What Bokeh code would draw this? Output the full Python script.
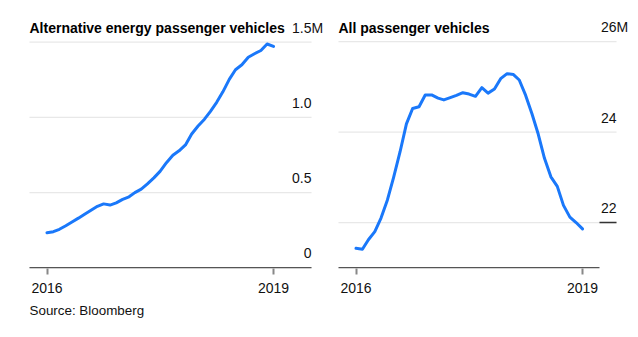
import pandas as pd
from bokeh.plotting import figure
from bokeh.models import (ColumnDataSource, LabelSet, Label, Range1d, FixedTicker,
                          DatetimeTickFormatter, Title)
from bokeh.layouts import row
from bokeh.core.properties import value
from bokeh.embed import file_html
from bokeh.resources import INLINE

# ---------------- data ----------------
months = pd.date_range("2016-01-01", periods=37, freq="MS")

# rolling sales, millions of vehicles
alt_energy = [0.233, 0.240, 0.256, 0.280, 0.305, 0.330, 0.356, 0.383, 0.409, 0.425,
              0.417, 0.432, 0.455, 0.472, 0.500, 0.523, 0.558, 0.598, 0.641, 0.699,
              0.748, 0.778, 0.817, 0.890, 0.943, 0.988, 1.039, 1.100, 1.170, 1.253,
              1.317, 1.350, 1.400, 1.423, 1.445, 1.488, 1.472]
all_passenger = [21.43, 21.41, 21.62, 21.80, 22.10, 22.50, 23.00, 23.56, 24.18, 24.52,
                 24.56, 24.82, 24.82, 24.75, 24.71, 24.76, 24.81, 24.87, 24.84, 24.79,
                 24.98, 24.86, 24.95, 25.18, 25.29, 25.27, 25.15, 24.81, 24.41, 23.95,
                 23.42, 23.01, 22.80, 22.38, 22.12, 22.00, 21.86]

alt_ticks = [0, 0.5, 1.0, 1.5]
alt_tick_labels = ["0", "0.5", "1.0", "1.5M"]
all_ticks = [22, 24, 26]
all_tick_labels = ["22", "24", "26M"]
x_tick_dates = ["2016-01-01", "2019-01-01"]
x_tick_labels = ["2016", "2019"]
titles = ["Alternative energy passenger vehicles", "All passenger vehicles"]
source_note = "Source: Bloomberg"

# ---------------- styling / layout ----------------
FONT = "Liberation Sans"
BLUE = "#1a78fa"
GRID = "#e8e8e8"
AXIS = "#555555"
TICK = "#888888"
TEXT = "#111111"
H = 337
B_BOTTOM = 69            # frame spans canvas rows 0..268
FRAME_H = H - B_BOTTOM
AXIS_PX = 267.3          # canvas row of the baseline
DAY_MS = 86400000.0
PX_PER_MS = 226.5 / (1096 * DAY_MS)
T0 = pd.Timestamp(x_tick_dates[0]).value / 1e6
tick_ms = [pd.Timestamp(d).value / 1e6 for d in x_tick_dates]
M_W = 11.7  # width of the trailing "M" at 14px


def panel(width, tick0_px, grid_x0_px, grid_x1_px, axis_x1_px, vals, base_value,
          px_per_unit, ticks, labels, title, underline_value=None, note=None):
    x_start = T0 - tick0_px / PX_PER_MS
    x_end = x_start + width / PX_PER_MS
    gx0 = x_start + grid_x0_px / PX_PER_MS
    gx1 = x_start + grid_x1_px / PX_PER_MS
    ax1 = x_start + axis_x1_px / PX_PER_MS
    y_start = base_value - (FRAME_H - AXIS_PX) / px_per_unit
    y_end = y_start + FRAME_H / px_per_unit

    p = figure(width=width, height=H, x_axis_type="datetime", y_axis_location=None,
               x_range=Range1d(x_start, x_end), y_range=Range1d(y_start, y_end),
               output_backend="svg", toolbar_location=None,
               min_border_left=0, min_border_right=0,
               min_border_top=0, min_border_bottom=B_BOTTOM)
    p.outline_line_color = None
    p.background_fill_color = "white"
    p.border_fill_color = "white"
    for g in p.grid:
        g.visible = False

    # horizontal gridlines
    p.segment(x0=[gx0] * len(ticks), x1=[gx1] * len(ticks), y0=ticks, y1=ticks,
              line_color=GRID, line_width=1.2)

    ax = p.xaxis[0]
    ax.ticker = FixedTicker(ticks=tick_ms)
    ax.formatter = DatetimeTickFormatter(days="%Y", months="%Y", years="%Y")
    ax.axis_line_color = None
    ax.major_tick_in = 0
    ax.major_tick_out = 6
    ax.minor_tick_line_color = None
    ax.major_tick_line_color = TICK
    ax.major_tick_line_width = 2
    ax.major_label_standoff = 8
    ax.major_label_text_font = FONT
    ax.major_label_text_font_size = "14px"
    ax.major_label_text_color = TEXT

    # baseline
    p.segment(x0=[gx0], x1=[ax1], y0=[base_value], y1=[base_value],
              line_color=AXIS, line_width=1.5)
    if underline_value is not None:
        p.segment(x0=[ax1], x1=[gx1], y0=[underline_value], y1=[underline_value],
                  line_color="#333333", line_width=1.5)

    p.line(x=list(months), y=vals, line_color=BLUE, line_width=3,
           line_join="round", line_cap="round")

    src = ColumnDataSource(dict(
        x=[gx1] * len(ticks), y=ticks, text=labels,
        xo=[M_W if l.endswith("M") else 0 for l in labels]))
    p.add_layout(LabelSet(x="x", y="y", text="text", x_offset="xo", y_offset=9.5,
                          source=src, text_align="right", text_baseline="alphabetic",
                          text_font=value(FONT), text_font_size="14px", text_color=TEXT))

    p.add_layout(Label(x=gx0, y=y_end, y_offset=-27, text=title, text_align="left",
                       text_baseline="alphabetic", text_font=FONT,
                       text_font_style="bold", text_font_size="14px", text_color="#000000"))
    if note is not None:
        p.add_layout(Title(text=note, align="left", offset=grid_x0_px, standoff=11,
                           text_font=FONT, text_font_style="normal",
                           text_font_size="13.4px", text_color=TEXT), "below")
    return p


p1 = panel(324, 46.5, 29, 311, 311, alt_energy, 0.0, 150.4, alt_ticks,
           alt_tick_labels, titles[0], note=source_note)
p2 = panel(314, 31.5, 14, 292, 275, all_passenger, 21.0, 45.25, all_ticks,
           all_tick_labels, titles[1], underline_value=22)

layout = row(p1, p2)
open("out.html", "w").write(file_html(layout, INLINE))
